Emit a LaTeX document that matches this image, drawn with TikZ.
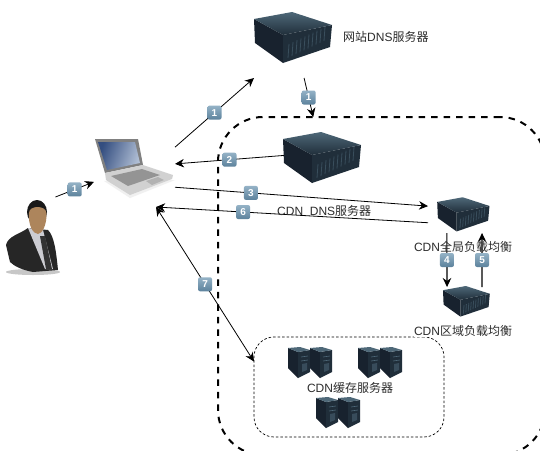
\documentclass[tikz,border=0pt]{standalone}
\usepackage{fontspec}
\setmainfont{Liberation Sans}
\newfontfamily\cjk{Noto Sans CJK SC}
\usetikzlibrary{arrows.meta,positioning,calc}
\definecolor{boxdark}{RGB}{24,34,46}
\definecolor{boxside}{RGB}{32,46,58}
\definecolor{boxtop}{RGB}{78,104,120}
\definecolor{labeltext}{RGB}{45,45,45}
\definecolor{badgelight}{RGB}{148,178,198}
\definecolor{badgedark}{RGB}{92,130,156}
\definecolor{screenblue}{RGB}{52,78,128}
\definecolor{screenpale}{RGB}{176,190,212}
\newcommand{\zh}[1]{{\cjk #1}}
\tikzset{
  serverpic/.pic={
    \fill[boxdark] (-40,-18) -- (-11,-2) -- (-11,26) -- (-39,6) -- cycle;
    \fill[boxside] (-11,-2) -- (38,-12) -- (36,10) -- (-11,26) -- cycle;
    \shade[top color=boxtop,bottom color=boxside] (-40,-18) -- (-2,-25) -- (38,-12) -- (-11,-2) -- cycle;
    \foreach \i in {0,...,9}
      \draw[boxtop!55!boxside,line width=.8pt] ({-6+4*\i},{21-1.9*\i}) -- ({-5+4*\i},{7-1.9*\i});
  },
  towerpic/.pic={
    \fill[boxdark] (0,0) -- (10,4) -- (10,30) -- (0,20) -- cycle;
    \fill[boxside] (10,4) -- (22,2) -- (22,24) -- (10,30) -- cycle;
    \fill[boxtop] (0,0) -- (12,-1) -- (22,2) -- (10,4) -- cycle;
    \draw[boxtop,line width=.6pt] (13,9) -- (20,8) (13,13) -- (20,12);
    \fill[boxtop!60!boxdark] (14,16) -- (19,15) -- (19,22) -- (14,24) -- cycle;
  }
}
\begin{document}
\begin{tikzpicture}[
  x=1pt,y=-1pt,
  font=\fontsize{12}{14}\selectfont,
  anchorbox/.style={inner sep=0pt,outer sep=0pt},
  zone/.style={draw=black,line width=2pt,dash pattern=on 6.5pt off 6pt,rounded corners=45pt,inner sep=0pt,outer sep=0pt,minimum width=327pt,minimum height=338pt},
  cachezone/.style={draw=black,line width=.7pt,dash pattern=on 2.5pt off 2pt,rounded corners=20pt,inner sep=0pt,outer sep=0pt,fill=white,minimum width=190pt,minimum height=100pt},
  line/.style={-{Stealth[length=9pt,width=8.5pt]},line width=.8pt,draw=black},
  both/.style={{Stealth[length=9pt,width=8.5pt]}-{Stealth[length=9pt,width=8.5pt]},line width=.8pt,draw=black},
  updown/.style={line width=1.1pt},
  badge/.style={rectangle,rounded corners=2pt,top color=badgelight,bottom color=badgedark,text=white,font=\fontsize{10}{10}\selectfont\bfseries,minimum width=14pt,minimum height=14pt,inner sep=0pt},
  caption/.style={text=labeltext,inner sep=0pt}
]
  \useasboundingbox (0,0) rectangle (540,450);
  \clip (0,0) rectangle (540,450);
  \fill[white] (0,0) rectangle (540,450);

  \node[zone] (cdnzone) at (381.5,286) {};
  \node[cachezone] (cachebox) at (349,387) {};

  \node[anchorbox,minimum width=52pt,minimum height=75pt] (user) at (32,234.5) {};
  \node[anchorbox,minimum width=81pt,minimum height=69pt] (laptop) at (134.5,172.5) {};
  \node[anchorbox,minimum width=80pt,minimum height=66pt] (sitedns) at (294,45) {};
  \node[anchorbox,minimum width=79pt,minimum height=52pt] (cdndns) at (323.5,157.5) {};
  \node[anchorbox,minimum width=62pt,minimum height=36pt] (globallb) at (459,215) {};
  \node[anchorbox,minimum width=50pt,minimum height=29pt] (regionlb) at (467,301.5) {};

  \pic at (294,37) {serverpic};
  \pic at (323,157) {serverpic};
  \pic[scale=.67] at (464,214) {serverpic};
  \pic[scale=.6] at (467,301) {serverpic};
  \foreach \x/\y in {288/348,310/348,358/348,380/348,316/398,338/398}
    \pic at (\x,\y) {towerpic};

  % laptop
  \fill[black!6] (104,181) -- (130,198) -- (175,180) -- cycle;
  \fill[black!50] (95,139) -- (138,139) -- (143,165) -- (105,173) -- cycle;
  \shade[left color=screenblue,right color=screenpale,shading angle=70] (98,142) -- (135,142) -- (140,163) -- (107,170) -- cycle;
  \fill[black!18] (105,173) -- (143,165) -- (173,175) -- (172,179) -- (130,195) -- (106,180) -- cycle;
  \fill[black!42] (111,176) -- (142,169) -- (160,175) -- (128,186) -- cycle;
  \fill[black!30] (146,181) -- (158,177) -- (164,180) -- (152,185) -- cycle;

  % person
  \fill[black!22] (33,272) ellipse (27 and 3);
  \fill[black!85] (6,245) .. controls (8,236) and (20,234) .. (28,228) -- (48,230) .. controls (54,236) and (56,250) .. (58,270) -- (33,272) .. controls (22,270) and (14,266) .. (10,262) -- cycle;
  \fill[blue!12!black!20] (28,228) -- (43,230) -- (53,269) -- (45,269) -- cycle;
  \fill[black!80] (40,236) -- (45,236) -- (52,269) -- (46,269) -- cycle;
  \fill[black!90] (37,212) ellipse (10 and 12);
  \fill[brown!80!black!80] (29,213) .. controls (29,205) and (46,205) .. (46.5,213) .. controls (47,225) and (42,234) .. (38,234) .. controls (33,234) and (28,225) .. (29,213) -- cycle;

  \draw[line] (user.58) -- node[badge] (step1a) {1} (laptop.193);
  \draw[line] (laptop.32) -- node[badge] (step1b) {1} (sitedns.south west);
  \draw[line] (sitedns.-73) -- node[badge] (step1c) {1} (cdnzone.112);
  \draw[line] (cdndns.177) -- node[badge] (step2) {2} (laptop.12);
  \draw[line] (laptop.-20) -- node[badge,pos=.3] (step3) {3} (globallb.164);
  \draw[line] (globallb.194) -- node[badge,pos=.68] (step6) {6} (laptop.-58);
  \draw[both] (laptop.-58) -- node[badge,pos=.5] (step7) {7} (cachebox.165);
  \draw[line,updown] (globallb.236) -- node[badge] (step4) {4} (regionlb.144);
  \draw[line,updown] (regionlb.44) -- node[badge] (step5) {5} (globallb.-38);

  \node[caption,anchor=west] (sitednstext) at (343,37) {\zh{网站}DNS\zh{服务器}};
  \node[caption,anchor=west] (cdndnstext) at (277,211) {CDN\ \ DNS\zh{服务器}};
  \node[caption] (globaltext) at (463,247) {CDN\zh{全局负载均衡}};
  \node[caption,fill=white] (regiontext) at (463,331) {CDN\zh{区域负载均衡}};
  \node[caption] (cachetext) at (350,388) {CDN\zh{缓存服务器}};
\end{tikzpicture}
\end{document}
